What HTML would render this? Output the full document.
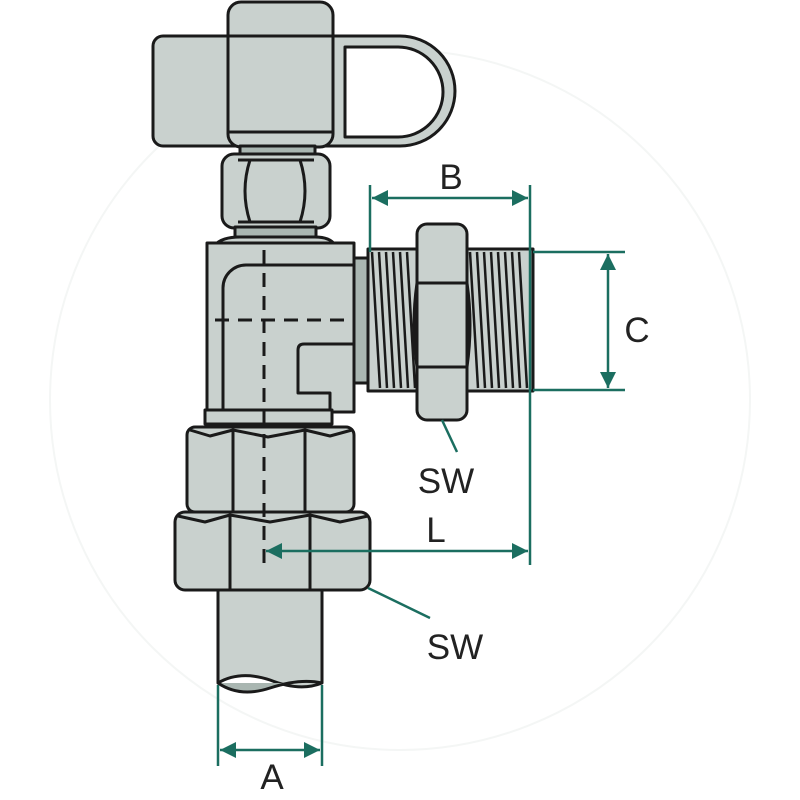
<!DOCTYPE html>
<html><head><style>body{margin:0;background:#fff}svg{display:block}</style></head><body>
<svg width="800" height="800" viewBox="0 0 800 800" xmlns="http://www.w3.org/2000/svg">
<defs>
<marker id="ar" viewBox="0 0 10 10" refX="10" refY="5" markerWidth="24" markerHeight="16" orient="auto-start-reverse" markerUnits="userSpaceOnUse"><path d="M0,0 L10,5 L0,10 z" fill="#1b6e60"/></marker>
</defs>
<circle cx="400" cy="400" r="350" fill="none" stroke="#f4f6f5" stroke-width="2"/>
<g stroke="#1a1a1a" stroke-width="3" fill="#c9d1ce" stroke-linejoin="round">
<path d="M320,36 H400 A55,55 0 0 1 400,146 H320 Z"/>
<path d="M345,47 H398 A45,45 0 0 1 398,137 H345 Z" fill="#fff"/>
<rect x="153" y="36" width="100" height="110" rx="10"/>
<rect x="228" y="2" width="105" height="145" rx="13"/>
<line x1="228" y1="36" x2="333" y2="36"/>
<line x1="228" y1="132" x2="333" y2="132"/>
<rect x="240" y="146" width="75" height="10" fill="#a9b6b1"/>
<rect x="222" y="154" width="108" height="74" rx="12"/>
<path d="M250,160 Q240,191 250,222 M300,160 Q310,191 300,222 M238,160 H314 M238,222 H314" fill="none"/>
<rect x="235" y="227" width="81" height="10" fill="#a9b6b1"/>
<path d="M215,245 Q222,237 240,237 H315 Q330,237 335,245 Z"/>
<rect x="207" y="243" width="147" height="169"/>
<path d="M223,410 V288 A23,23 0 0 1 246,265 H354" fill="none"/>
<path d="M354,344 H304 Q298,344 298,350 V393 H330 V410" fill="none"/>
<rect x="354" y="258" width="14" height="125" fill="#a9b6b1"/>
<rect x="205" y="410" width="127" height="14"/>
<rect x="368" y="249" width="52" height="142"/>
<rect x="465" y="249" width="68" height="142"/>
<g fill="none" stroke-width="2.5">
<path d="M372,252 L380,388 M379,252 L387,388 M386,252 L394,388 M393,252 L401,388 M400,252 L408,388 M407,252 L415,388"/>
<path d="M470,252 L478,388 M477,252 L485,388 M484,252 L492,388 M491,252 L499,388 M498,252 L506,388 M505,252 L513,388 M512,252 L520,388 M519,252 L527,388"/>
</g>
<rect x="417" y="224" width="50" height="196" rx="10"/>
<path d="M417,283 H467 M417,367 H467 M417,283 Q411,325 417,367 M467,283 Q473,325 467,367" fill="none"/>
<rect x="187" y="427" width="167" height="85" rx="8"/>
<path d="M233,430 V512 M305,430 V512 M190,430 L210,436 L233,430 L268,437 L305,430 L330,436 L352,430" fill="none"/>
<path d="M218,588 V683 Q240,670 270,680 Q300,692 322,683 V588 Z"/>
<path d="M218,683 Q240,698 270,688 Q300,678 322,683" fill="#a9b6b1"/>
<rect x="175" y="512" width="195" height="78" rx="10"/>
<path d="M230,515 V590 M310,515 V590 M178,516 L205,522 L230,515 L270,522 L310,515 L340,522 L368,516" fill="none"/>
</g>
<g stroke="#1a1a1a" stroke-width="3" stroke-dasharray="14,9" fill="none">
<line x1="264" y1="250" x2="264" y2="570"/>
<line x1="215" y1="320" x2="354" y2="320"/>
</g>
<g stroke="#1b6e60" stroke-width="2.5" fill="none">
<line x1="218" y1="685" x2="218" y2="766"/><line x1="322" y1="685" x2="322" y2="766"/>
<line x1="220" y1="750" x2="320" y2="750" marker-start="url(#ar)" marker-end="url(#ar)"/>
<line x1="370" y1="185" x2="370" y2="252"/><line x1="530" y1="185" x2="530" y2="565"/>
<line x1="372" y1="198" x2="528" y2="198" marker-start="url(#ar)" marker-end="url(#ar)"/>
<line x1="533" y1="252" x2="625" y2="252"/><line x1="533" y1="390" x2="625" y2="390"/>
<line x1="608" y1="254" x2="608" y2="388" marker-start="url(#ar)" marker-end="url(#ar)"/>
<line x1="266" y1="551" x2="528" y2="551" marker-start="url(#ar)" marker-end="url(#ar)"/>
<line x1="442" y1="420" x2="457" y2="452"/>
<line x1="368" y1="588" x2="430" y2="618"/>
</g>
<g font-family="Liberation Sans, sans-serif" font-size="35" fill="#222" text-anchor="middle">
<text x="272" y="789">A</text>
<text x="451" y="189">B</text>
<text x="637" y="342">C</text>
<text x="436" y="542">L</text>
<text x="446" y="493">SW</text>
<text x="455" y="659">SW</text>
</g>
</svg>
</body></html>
